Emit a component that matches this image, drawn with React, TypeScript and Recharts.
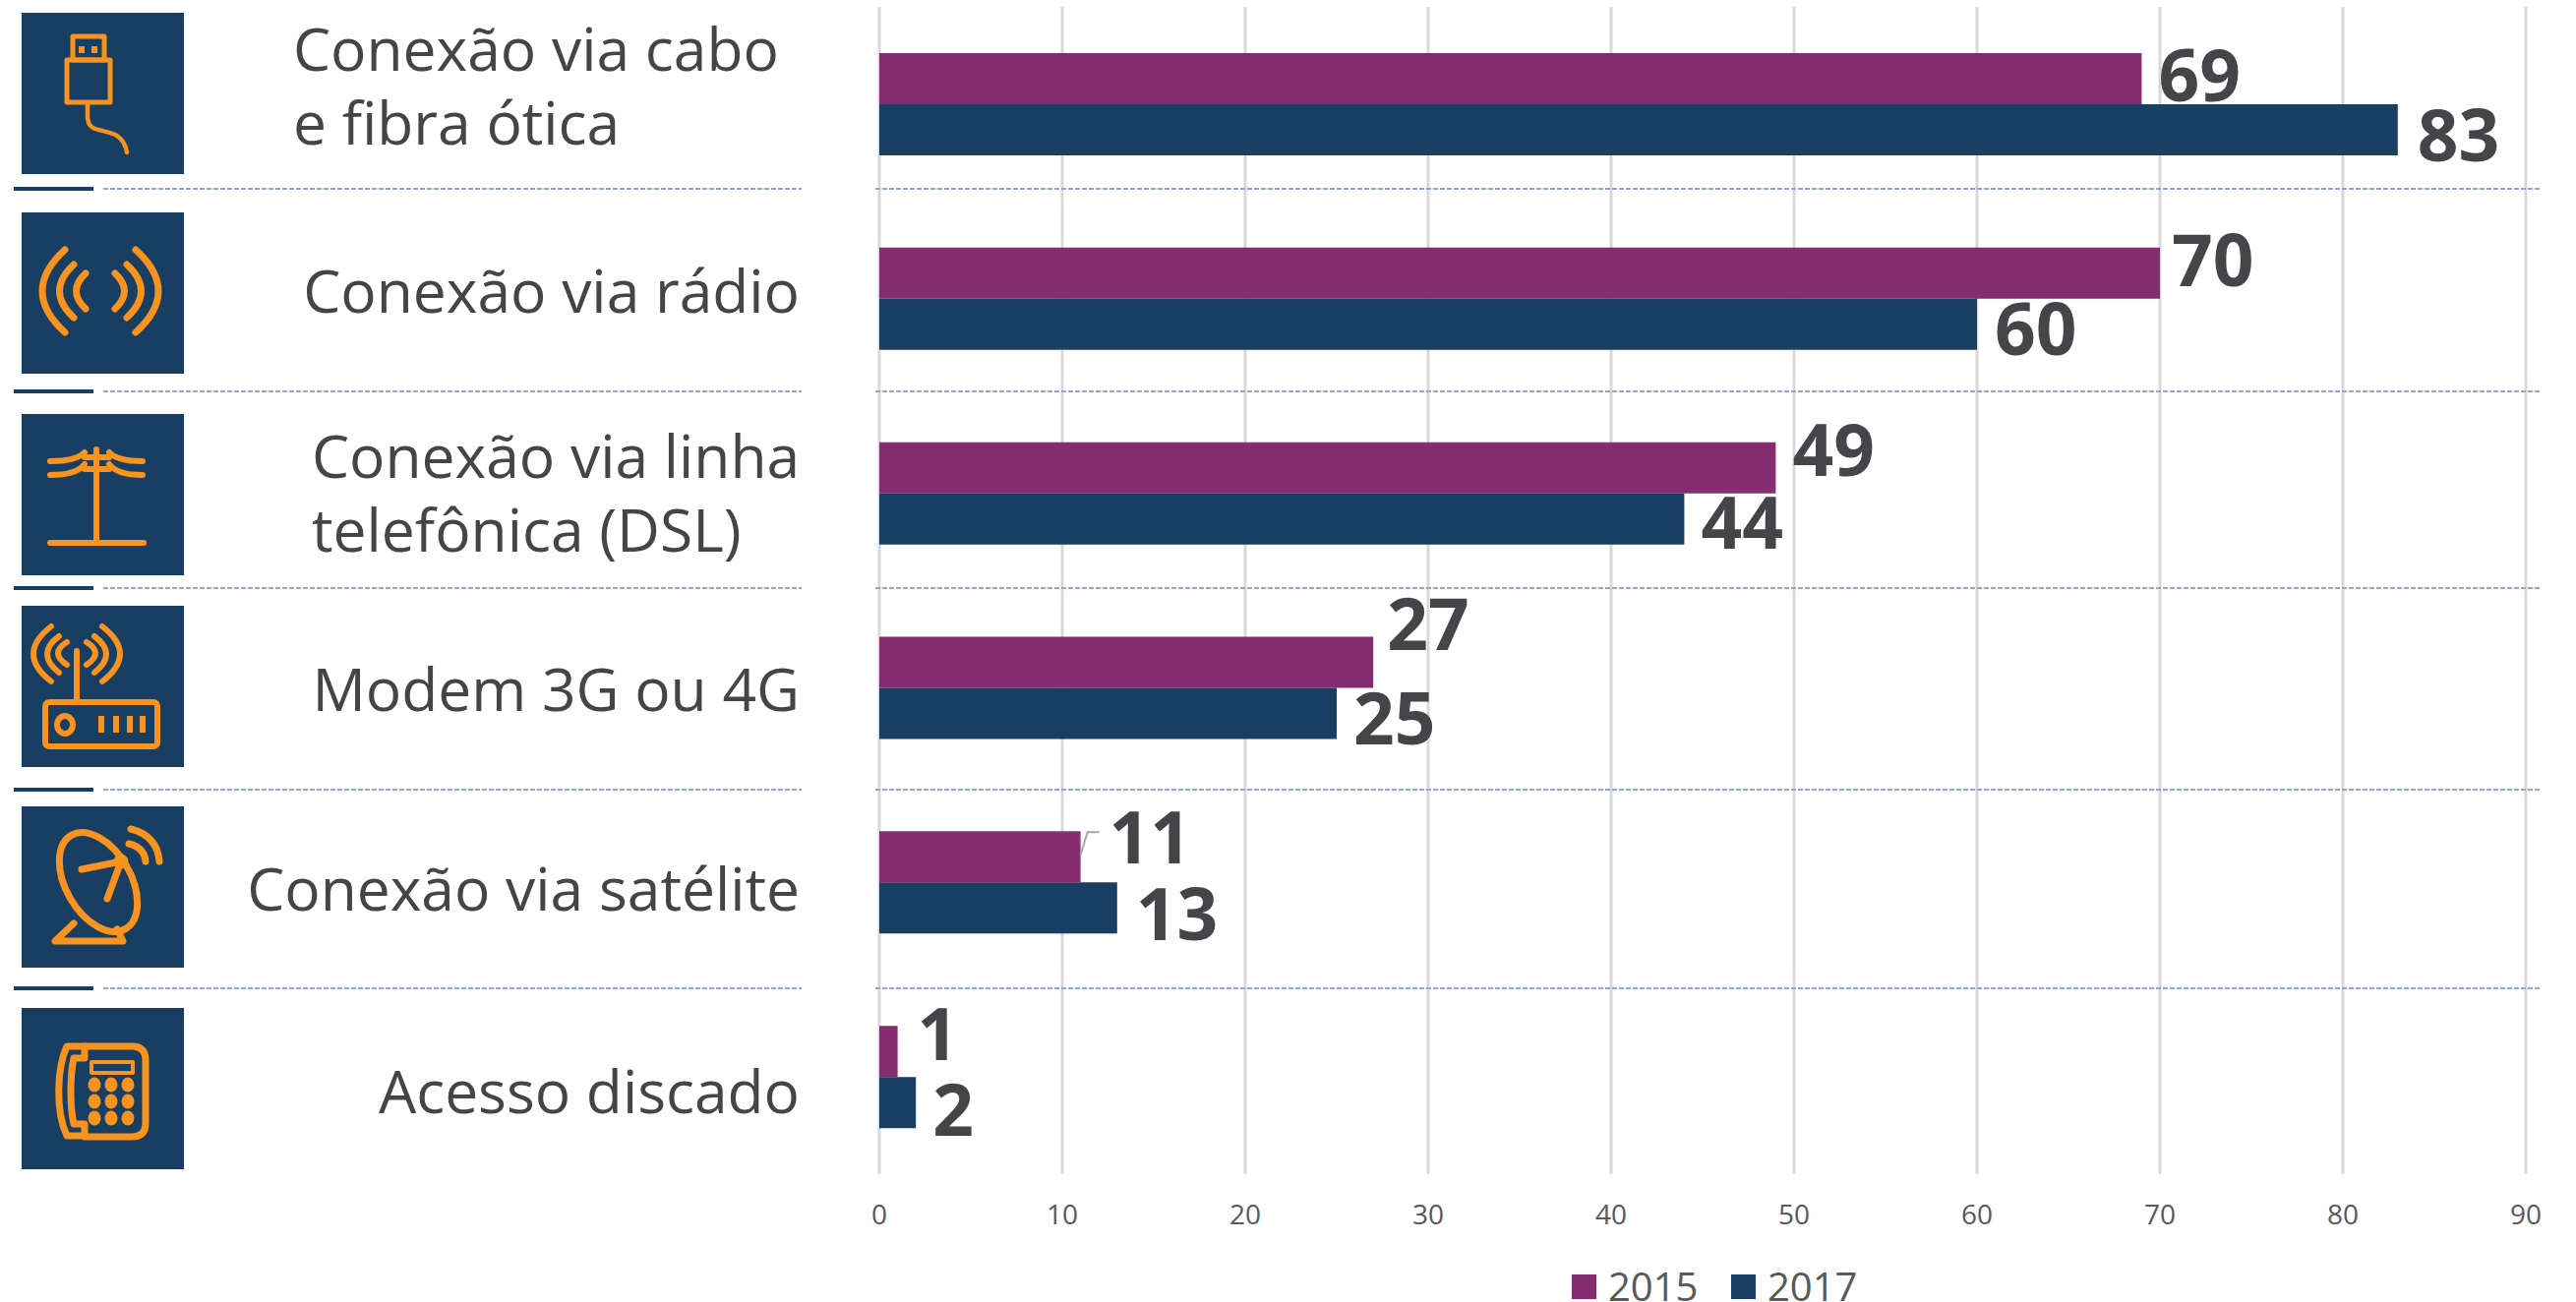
import { BarChart, Bar, XAxis, YAxis, CartesianGrid, LabelList } from 'recharts'

const categories = [
  ['Conexão via cabo', 'e fibra ótica'],
  ['Conexão via rádio'],
  ['Conexão via linha', 'telefônica (DSL)'],
  ['Modem 3G ou 4G'],
  ['Conexão via satélite'],
  ['Acesso discado'],
]
const values2015 = [69, 70, 49, 27, 11, 1]
const values2017 = [83, 60, 44, 25, 13, 2]
const xTicks = [0, 10, 20, 30, 40, 50, 60, 70, 80, 90]

const data = categories.map((lines, i) => ({
  name: lines.join(' '),
  y2015: values2015[i],
  y2017: values2017[i],
}))

const PURPLE = '#842d71'
const NAVY = '#183e61'
const ORANGE = '#f7931e'
const TEXT = '#444449'
const FONT = '"Open Sans", sans-serif'

// hand placed furniture on the left of the plot
const iconTop = [13, 216, 421, 616, 820, 1025]
const separatorY = [192, 398, 598, 803, 1005]
const labelX = [298, 813, 317, 813, 813, 813]
const labelY = [46, 292, 460, 697, 900, 1106]

// label nudges, the data labels in the source were dragged around by hand
const nudge2015 = [[17, -6], [12, -15], [17, -20], [14, -41], [29, -22], [20, -20]]
const nudge2017 = [[20, 3], [18, 3], [17, 2], [17, 3], [19, 4], [17, 5]]

const s = { fill: 'none', stroke: ORANGE, strokeWidth: 6, strokeLinecap: 'round' as const, strokeLinejoin: 'round' as const }

function Icon({ index }: { index: number }) {
  if (index === 0) {
    return (
      <g {...s}>
        <rect x={52} y={24} width={32} height={24} strokeWidth={5} />
        <rect x={46} y={48} width={44} height={43} strokeWidth={5} />
        <path d="M61 34v7M74 34v7" strokeLinecap="butt" />
        <path d="M67 91v14c0 18 16 12 30 20c7 5 9 10 10 17" strokeWidth={4.5} />
      </g>
    )
  }
  if (index === 1) {
    return (
      <g {...s} strokeWidth={7}>
        <path d="M44 38Q-2 80 44 122M53 53Q24 80 53 107M65 62Q46 80 65 98" />
        <path d="M116 38Q162 80 116 122M107 53Q136 80 107 107M95 62Q114 80 95 98" />
      </g>
    )
  }
  if (index === 2) {
    return (
      <g {...s}>
        <path d="M29 131H124M76 131V36" />
        <path d="M64 44H89M64 56H89" />
        <path d="M29 48Q56 48 64 39M123 48Q97 48 89 39" />
        <path d="M29 62Q56 62 64 51M123 62Q97 62 89 51" />
      </g>
    )
  }
  if (index === 3) {
    return (
      <g {...s}>
        <rect x={24} y={98} width={114} height={45} rx={4} />
        <ellipse cx={44} cy={121} rx={8} ry={9} />
        <path d="M81 112v17M96 112v17M110 112v17M123 112v17" strokeLinecap="butt" />
        <path d="M56 98V46" />
        <path d="M30 21Q-6 49 30 77M38 31Q14 49 38 68M46 37Q28 48 46 60" />
        <path d="M82 21Q118 49 82 77M74 31Q98 49 74 68M66 37Q84 48 66 60" />
      </g>
    )
  }
  if (index === 4) {
    return (
      <g {...s} strokeWidth={7}>
        <ellipse cx={78} cy={77} rx={33} ry={55} transform="rotate(-30 78 77)" />
        <path d="M101 56L61 64M101 56L87 94" />
        <circle cx={101} cy={56} r={4} fill={ORANGE} />
        <path d="M111 23Q138 30 140 56M109 38Q125 42 126 56" />
        <path d="M53 119L34 137H103L97 125" />
      </g>
    )
  }
  return (
    <g {...s} strokeWidth={7}>
      <path d="M64 39H46C36 60 34 105 46 130H64V118H53C49 100 49 70 53 51H64Z" />
      <path d="M64 39H112Q126 39 126 53V117Q126 131 112 131H64" />
      <rect x={71} y={55} width={42} height={11} strokeWidth={4} />
      {[78, 95, 112].map((cy) =>
        [74, 91, 108].map((cx) => (
          <ellipse key={`${cx}-${cy}`} cx={cx} cy={cy} rx={6.5} ry={7.5} fill={ORANGE} stroke="none" />
        )),
      )}
    </g>
  )
}

function CategoryTick({ index }: { index?: number }) {
  const i = index ?? 0
  const lines = categories[i]
  const anchorStart = lines.length > 1
  return (
    <g>
      <rect x={22} y={iconTop[i]} width={165} height={164} fill={NAVY} />
      <g transform={`translate(22 ${iconTop[i]})`}>
        <Icon index={i} />
      </g>
      <text
        x={labelX[i]}
        y={labelY[i]}
        textAnchor={anchorStart ? 'start' : 'end'}
        fontFamily={FONT}
        fontSize={60.5}
        fill={TEXT}
      >
        {lines.map((line, k) => (
          <tspan key={line} x={labelX[i]} dy={k === 0 ? 26 : 75}>
            {line}
          </tspan>
        ))}
      </text>
      {i < separatorY.length && (
        <>
          <rect x={14} y={separatorY[i] - 2} width={81} height={4} fill={NAVY} />
          <line x1={105} x2={815} y1={separatorY[i]} y2={separatorY[i]} stroke="#8ea5d8" strokeWidth={2} strokeDasharray="5 2" />
          <line x1={890} x2={2584} y1={separatorY[i]} y2={separatorY[i]} stroke="#8ea5d8" strokeWidth={2} strokeDasharray="5 2" />
        </>
      )}
    </g>
  )
}

function ValueLabel({ x, y, width, height, value, index, nudge }: any) {
  const [dx, dy] = nudge[index]
  const endX = x + width
  const midY = y + height / 2
  return (
    <g>
      {value === 11 && <path d={`M${endX} ${midY - 2}L${endX + 7} ${midY - 25}H${endX + 19}`} fill="none" stroke="#a6a6a6" strokeWidth={2} />}
      <text
        x={endX + dx}
        y={midY + dy}
        dominantBaseline="central"
        fontFamily={FONT}
        fontWeight={700}
        fontSize={73}
        fill={TEXT}
      >
        {value}
      </text>
    </g>
  )
}

function LegendItems() {
  const items = [
    { label: '2015', color: PURPLE, left: 1598 },
    { label: '2017', color: NAVY, left: 1760 },
  ]
  return (
    <>
      {items.map((item) => (
        <div key={item.label} style={{ position: 'absolute', left: item.left, top: 1292, display: 'flex', alignItems: 'center', height: 32, lineHeight: '32px' }}>
          <span style={{ width: 25, height: 25, background: item.color, marginRight: 12 }} />
          <span style={{ fontFamily: FONT, fontSize: 40, color: '#595959' }}>{item.label}</span>
        </div>
      ))}
    </>
  )
}

export default function App() {
  return (
    <div style={{ position: 'absolute', left: 0, top: 0, width: 2619, height: 1324, overflow: 'hidden', background: '#fff' }}>
      <BarChart
        width={2619}
        height={1324}
        data={data}
        layout="vertical"
        margin={{ top: 7, right: 51, bottom: 0, left: 0 }}
        barSize={52}
        barGap={0}
        barCategoryGap={94}
      >
        <CartesianGrid horizontal={false} stroke="#d9d9d9" strokeWidth={3} />
        <XAxis
          type="number"
          domain={[0, 90]}
          ticks={xTicks}
          axisLine={false}
          tickLine={false}
          height={130}
          tickMargin={25}
          tick={{ fill: '#595959', fontSize: 28, fontFamily: FONT }}
        />
        <YAxis
          type="category"
          dataKey="name"
          width={894}
          axisLine={false}
          tickLine={false}
          interval={0}
          tick={(props: any) => <CategoryTick index={props.index} />}
        />
        <Bar dataKey="y2015" fill={PURPLE} isAnimationActive={false}>
          <LabelList dataKey="y2015" content={(p: any) => <ValueLabel {...p} nudge={nudge2015} />} />
        </Bar>
        <Bar dataKey="y2017" fill={NAVY} isAnimationActive={false}>
          <LabelList dataKey="y2017" content={(p: any) => <ValueLabel {...p} nudge={nudge2017} />} />
        </Bar>
      </BarChart>
      <LegendItems />
    </div>
  )
}
